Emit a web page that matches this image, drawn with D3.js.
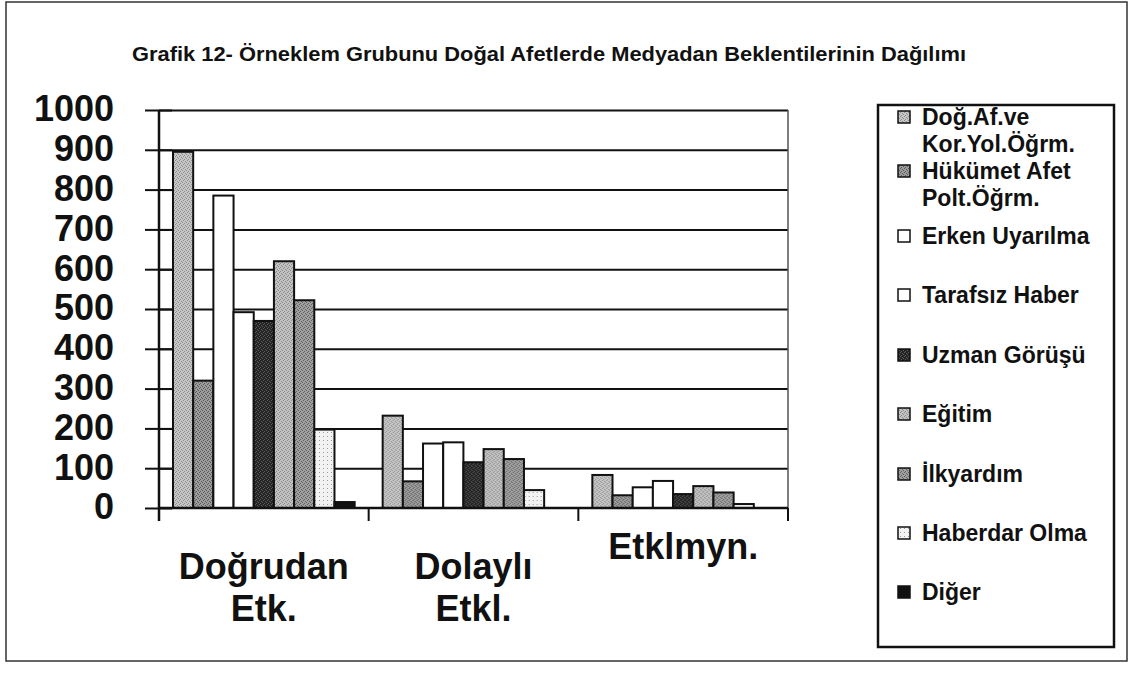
<!DOCTYPE html>
<html>
<head>
<meta charset="utf-8">
<script src="https://cdn.jsdelivr.net/npm/d3@7"></script>
<style>
  html, body { margin: 0; padding: 0; background: #fff; }
  svg { display: block; }
  text { font-family: "Liberation Sans", Arial, sans-serif; font-weight: bold; fill: #111; }
</style>
</head>
<body>
<svg id="chart" width="1134" height="674"></svg>
<script>
// ---- data ----
const title = "Grafik 12- Örneklem Grubunu  Doğal Afetlerde Medyadan Beklentilerinin Dağılımı";
const categories = ["Doğrudan Etk.", "Dolaylı Etkl.", "Etklmyn."];
const categoryLines = [["Doğrudan", "Etk."], ["Dolaylı", "Etkl."], ["Etklmyn."]];
const seriesNames = ["Doğ.Af.ve Kor.Yol.Öğrm.", "Hükümet Afet Polt.Öğrm.", "Erken Uyarılma", "Tarafsız Haber", "Uzman Görüşü", "Eğitim", "İlkyardım", "Haberdar Olma", "Diğer"];
const legendLines = [["Doğ.Af.ve", "Kor.Yol.Öğrm."], ["Hükümet Afet", "Polt.Öğrm."], ["Erken Uyarılma"], ["Tarafsız Haber"], ["Uzman Görüşü"], ["Eğitim"], ["İlkyardım"], ["Haberdar Olma"], ["Diğer"]];
const dogAf      = [895, 232, 83];
const hukumet    = [320, 67, 32];
const erken      = [785, 162, 52];
const tarafsiz   = [492, 165, 68];
const uzman      = [470, 115, 35];
const egitim     = [620, 148, 55];
const ilkyardim  = [522, 123, 39];
const haberdar   = [197, 45, 10];
const diger      = [15, 0, 0];
const seriesValues = [dogAf, hukumet, erken, tarafsiz, uzman, egitim, ilkyardim, haberdar, diger];
const yTicks = [0, 100, 200, 300, 400, 500, 600, 700, 800, 900, 1000];
// base tone and speckle tone of each series' fill (scanned stipple look)
const seriesBase = ["#c6c6c6", "#9c9c9c", "#ffffff", "#ffffff", "#242424", "#c2c2c2", "#a0a0a0", "#f2f2f2", "#111111"];
const seriesDot  = ["#8c8c8c", "#5a5a5a", null, null, "#5c5c5c", "#8a8a8a", "#606060", "#9a9a9a", null];

// ---- layout ----
const svg = d3.select("#chart");
const plot = {left: 159, right: 788, top: 110, bottom: 508};

// stipple patterns
const defs = svg.append("defs");
const dotSpots = [[0,0],[2,1],[1,3],[3,2]];
seriesBase.forEach((b, i) => {
  const p = defs.append("pattern").attr("id", "pat" + i).attr("patternUnits", "userSpaceOnUse")
    .attr("width", 4).attr("height", 4);
  p.append("rect").attr("width", 4).attr("height", 4).attr("fill", b);
  if (seriesDot[i]) {
    const spots = i === 7 ? dotSpots.slice(0, 1) : dotSpots;
    spots.forEach(([dx, dy]) => p.append("rect").attr("x", dx).attr("y", dy)
      .attr("width", 1).attr("height", 1).attr("fill", seriesDot[i]));
  }
});
const fillOf = i => seriesDot[i] ? `url(#pat${i})` : seriesBase[i];

svg.append("rect").attr("x", 6).attr("y", 2).attr("width", 1121).attr("height", 659)
  .attr("fill", "#fff").attr("stroke", "#333").attr("stroke-width", 1.5);

svg.append("text").attr("x", 132).attr("y", 61).attr("font-size", 21)
  .attr("textLength", 834).attr("lengthAdjust", "spacingAndGlyphs").text(title);

const y = d3.scaleLinear().domain([0, 1000]).range([plot.bottom, plot.top]);
const x0 = d3.scaleBand().domain(categories).range([plot.left, plot.right]).paddingInner(0).paddingOuter(0);
const x1 = d3.scaleBand().domain(d3.range(seriesNames.length)).range([14, x0.bandwidth() - 14]).padding(0);

// gridlines
const grid = svg.append("g").attr("transform", `translate(${plot.left},0)`)
  .call(d3.axisLeft(y).tickValues(yTicks.filter(v => v > 0)).tickSize(-(plot.right - plot.left)).tickFormat(""));
grid.select(".domain").remove();
grid.selectAll("line").attr("stroke", "#111").attr("stroke-width", 2);

// right border
svg.append("line").attr("x1", plot.right).attr("x2", plot.right).attr("y1", plot.top).attr("y2", plot.bottom + 13)
  .attr("stroke", "#555").attr("stroke-width", 1.5);

// bars
const groups = svg.append("g").selectAll("g").data(categories).join("g")
  .attr("transform", d => `translate(${x0(d)},0)`);
groups.selectAll("rect")
  .data((c, ci) => seriesValues.map((vals, si) => ({si, v: vals[ci]})).filter(d => d.v > 0))
  .join("rect")
  .attr("x", d => x1(d.si))
  .attr("y", d => y(d.v))
  .attr("width", x1.bandwidth())
  .attr("height", d => y(0) - y(d.v))
  .attr("fill", d => fillOf(d.si))
  .attr("stroke", "#111").attr("stroke-width", 2);

// y axis with crossing ticks
const yAxis = svg.append("g").attr("transform", `translate(${plot.left},0)`)
  .call(d3.axisLeft(y).tickValues(yTicks).tickFormat(d3.format("d")).tickSize(14).tickPadding(31));
yAxis.select(".domain").remove();
yAxis.selectAll(".tick line").attr("x2", -14).attr("x1", 13).attr("stroke", "#111").attr("stroke-width", 2);
yAxis.selectAll(".tick text").attr("font-size", 36).attr("font-family", "Liberation Sans, Arial, sans-serif")
  .attr("font-weight", "bold").attr("fill", "#111").attr("dy", "0.30em");
svg.append("line").attr("x1", plot.left).attr("x2", plot.left).attr("y1", plot.top).attr("y2", plot.bottom + 13)
  .attr("stroke", "#111").attr("stroke-width", 2.5);

// x axis
const xAxis = svg.append("g").attr("transform", `translate(0,${plot.bottom})`)
  .call(d3.axisBottom(x0).tickSize(0).tickFormat(""));
xAxis.select(".domain").attr("stroke", "#111").attr("stroke-width", 2.5).attr("d", `M${plot.left},0H${plot.right}`);
const bounds = categories.map(c => x0(c)).concat([plot.right]);
svg.append("g").selectAll("line").data(bounds.slice(1)).join("line")
  .attr("x1", d => d).attr("x2", d => d).attr("y1", plot.bottom).attr("y2", plot.bottom + 13)
  .attr("stroke", "#111").attr("stroke-width", 2);

// category labels (one text per line)
const catY = [566, 566, 546];
categories.forEach((c, i) => {
  categoryLines[i].forEach((ln, k) => {
    svg.append("text").attr("text-anchor", "middle").attr("font-size", 36)
      .attr("x", x0(c) + x0.bandwidth() / 2).attr("y", catY[i] + 13 + k * 42).text(ln);
  });
});

// legend
svg.append("rect").attr("x", 878).attr("y", 105).attr("width", 236).attr("height", 542)
  .attr("fill", "#fff").attr("stroke", "#111").attr("stroke-width", 2.5);
const legendY = [117, 171, 236, 295, 355, 414, 474, 533, 592];
seriesNames.forEach((s, i) => {
  const cy = legendY[i];
  svg.append("rect").attr("x", 898).attr("y", cy - 6).attr("width", 12).attr("height", 12)
    .attr("fill", fillOf(i)).attr("stroke", "#111").attr("stroke-width", 1.5);
  legendLines[i].forEach((ln, k) => {
    svg.append("text").attr("x", 922).attr("y", cy + 8 + k * 27).attr("font-size", 23).text(ln);
  });
});
</script>
</body>
</html>
